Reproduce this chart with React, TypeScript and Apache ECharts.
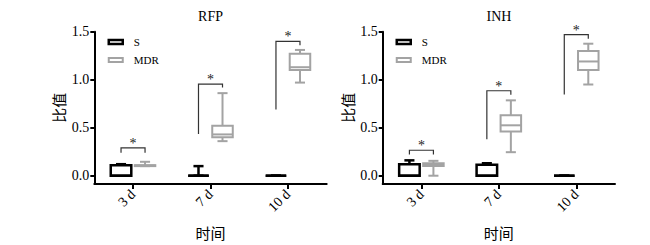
import React, { useEffect, useRef } from "react";
import * as echarts from "echarts";

const categories = ["3 d", "7 d", "10 d"];
const yTicks = [0, 0.5, 1.0, 1.5];
// [min, q1, median, q3, max]
const rfpS = [
  [0, 0, 0, 0.11, 0.12],
  [0, 0, 0, 0, 0.1],
  [0, 0, 0, 0, 0],
];
const rfpMDR = [
  [0.1, 0.1, 0.105, 0.11, 0.145],
  [0.36, 0.4, 0.43, 0.52, 0.86],
  [0.97, 1.1, 1.13, 1.27, 1.31],
];
const inhS = [
  [0, 0, 0, 0.12, 0.16],
  [0, 0, 0, 0.115, 0.13],
  [0, 0, 0, 0, 0],
];
const inhMDR = [
  [0, 0.1, 0.115, 0.13, 0.155],
  [0.245, 0.46, 0.525, 0.63, 0.785],
  [0.95, 1.1, 1.19, 1.3, 1.375],
];
// significance brackets: [left bottom, top, right bottom]
const rfpBrackets = [
  [0.24, 0.29, 0.24],
  [0.435, 0.955, 0.92],
  [0.69, 1.4, 1.36],
];
const inhBrackets = [
  [0.22, 0.265, 0.22],
  [0.38, 0.885, 0.844],
  [0.845, 1.469, 1.427],
];

const SERIF = "'Liberation Serif', 'Times New Roman', serif";
const CJK = "'Noto Sans CJK SC', sans-serif";
const S_COLOR = "#000000";
const MDR_COLOR = "#a3a3a3";
const SIG_COLOR = "#222222";
const OFFSET = 0.155;

function boxRender(side: number, color: string, lw: number) {
  return (params: any, api: any) => {
    const i = api.value(0);
    const cx = api.coord([i, 0])[0];
    const band = api.size([1, 0])[0];
    const x = cx + side * band * OFFSET;
    const w = band * 0.265;
    const capW = band * 0.13;
    const yMin = api.coord([i, api.value(1)])[1];
    const yQ1 = api.coord([i, api.value(2)])[1];
    const yMed = api.coord([i, api.value(3)])[1];
    const yQ3 = api.coord([i, api.value(4)])[1];
    const yMax = api.coord([i, api.value(5)])[1];
    const st = { stroke: color, lineWidth: lw, fill: "none" };
    return {
      type: "group",
      children: [
        { type: "line", shape: { x1: x, y1: yMax, x2: x, y2: yQ3 }, style: st },
        { type: "line", shape: { x1: x - capW / 2, y1: yMax, x2: x + capW / 2, y2: yMax }, style: st },
        { type: "line", shape: { x1: x, y1: yQ1, x2: x, y2: yMin }, style: st },
        { type: "line", shape: { x1: x - capW / 2, y1: yMin, x2: x + capW / 2, y2: yMin }, style: st },
        {
          type: "rect",
          shape: { x: x - w / 2, y: yQ3, width: w, height: Math.max(yQ1 - yQ3, 0) },
          style: { stroke: color, lineWidth: lw, fill: "#ffffff" },
        },
        { type: "line", shape: { x1: x - w / 2, y1: yMed, x2: x + w / 2, y2: yMed }, style: st },
      ],
    };
  };
}

function bracketRender(params: any, api: any) {
  const i = api.value(0);
  const cx = api.coord([i, 0])[0];
  const band = api.size([1, 0])[0];
  const xl = cx - band * OFFSET;
  const xr = cx + band * OFFSET;
  const yl = api.coord([i, api.value(1)])[1];
  const yt = api.coord([i, api.value(2)])[1];
  const yr = api.coord([i, api.value(3)])[1];
  return {
    type: "group",
    children: [
      {
        type: "polyline",
        shape: { points: [[xl, yl], [xl, yt], [xr, yt], [xr, yr]] },
        style: { stroke: "#333333", lineWidth: 1.2, fill: "none" },
      },
      {
        type: "text",
        x: (xl + xr) / 2,
        y: yt - 4.5,
        style: {
          legacy: false,
          text: "*",
          fontSize: 14,
          fontFamily: SERIF,
          fill: SIG_COLOR,
          align: "center",
          verticalAlign: "middle",
        },
      },
    ],
  };
}

const rows = (arr: number[][]) => arr.map((r, i) => [i, ...r]);

function makeAxes(g: number) {
  const x = {
    type: "category",
    gridIndex: g,
    data: categories,
    axisLine: { show: true, onZero: false, lineStyle: { color: "#000", width: 2 } },
    axisTick: { show: true, alignWithLabel: true, length: 5, lineStyle: { color: "#000", width: 2 } },
    axisLabel: { rotate: 45, margin: 8, fontFamily: SERIF, fontSize: 14, color: "#000" },
    splitLine: { show: false },
    name: "时间",
    nameLocation: "middle",
    nameGap: 41,
    nameTextStyle: { fontFamily: CJK, fontSize: 15, color: "#000" },
  };
  const y = {
    type: "value",
    gridIndex: g,
    min: -0.0863,
    max: 1.5,
    axisLine: { show: true, lineStyle: { color: "#000", width: 2 } },
    axisTick: { show: true, length: 4, customValues: yTicks, lineStyle: { color: "#000", width: 2 } },
    axisLabel: {
      customValues: yTicks,
      formatter: (v: number) => v.toFixed(1),
      margin: 5,
      fontFamily: SERIF,
      fontSize: 14,
      color: "#000",
    },
    splitLine: { show: false },
    name: "比值",
    nameLocation: "middle",
    nameGap: 28,
    nameTextStyle: { fontFamily: CJK, fontSize: 15, color: "#000" },
  };
  return { x, y };
}

function legendFor(left: number) {
  return {
    orient: "vertical",
    left,
    top: 36,
    padding: 0,
    itemWidth: 14,
    itemHeight: 4,
    itemGap: 6,
    textStyle: { fontFamily: SERIF, fontSize: 11, color: "#000", lineHeight: 12, padding: [0, 0, 0, 6] },
    selectedMode: false,
    data: [
      { name: "S", icon: "rect", itemStyle: { color: "#fff", borderColor: S_COLOR, borderWidth: 2.5 } },
      { name: "MDR", icon: "rect", itemStyle: { color: "#fff", borderColor: MDR_COLOR, borderWidth: 2 } },
    ],
  };
}

export default function App() {
  const ref = useRef<HTMLDivElement>(null);
  useEffect(() => {
    if (!ref.current) return;
    const chart = echarts.init(ref.current, null, { renderer: "svg" });
    const a0 = makeAxes(0);
    const a1 = makeAxes(1);
    const panels = [
      { s: rfpS, m: rfpMDR, b: rfpBrackets },
      { s: inhS, m: inhMDR, b: inhBrackets },
    ];
    const series: any[] = [];
    panels.forEach((p, g) => {
      series.push({
        type: "custom",
        name: "S",
        xAxisIndex: g,
        yAxisIndex: g,
        itemStyle: { color: S_COLOR },
        renderItem: boxRender(-1, S_COLOR, 2.5),
        encode: { x: 0, y: [1, 2, 3, 4, 5] },
        data: rows(p.s),
      });
      series.push({
        type: "custom",
        name: "MDR",
        xAxisIndex: g,
        yAxisIndex: g,
        itemStyle: { color: MDR_COLOR },
        renderItem: boxRender(1, MDR_COLOR, 2),
        encode: { x: 0, y: [1, 2, 3, 4, 5] },
        data: rows(p.m),
      });
      series.push({
        type: "custom",
        name: "sig",
        xAxisIndex: g,
        yAxisIndex: g,
        colorBy: "series",
        itemStyle: { color: SIG_COLOR },
        renderItem: bracketRender,
        encode: { x: 0, y: [1, 2, 3] },
        data: rows(p.b),
      });
    });
    chart.setOption({
      animation: false,
      backgroundColor: "#ffffff",
      title: [
        { text: "RFP", left: 210.5, top: 9, padding: 0, textAlign: "center", textStyle: { fontFamily: SERIF, fontSize: 14, fontWeight: "normal", color: "#000" } },
        { text: "INH", left: 499, top: 9, padding: 0, textAlign: "center", textStyle: { fontFamily: SERIF, fontSize: 14, fontWeight: "normal", color: "#000" } },
      ],
      legend: [legendFor(107.5), legendFor(395.5)],
      grid: [
        { left: 94.3, width: 232.4, top: 31.7, height: 152.6, containLabel: false },
        { left: 382.7, width: 232.3, top: 31.7, height: 152.6, containLabel: false },
      ],
      xAxis: [a0.x, a1.x],
      yAxis: [a0.y, a1.y],
      series,
    });
    return () => chart.dispose();
  }, []);
  return (
    <div
      ref={ref}
      style={{ position: "fixed", left: 0, top: 0, width: 650, height: 245, background: "#fff" }}
    />
  );
}
